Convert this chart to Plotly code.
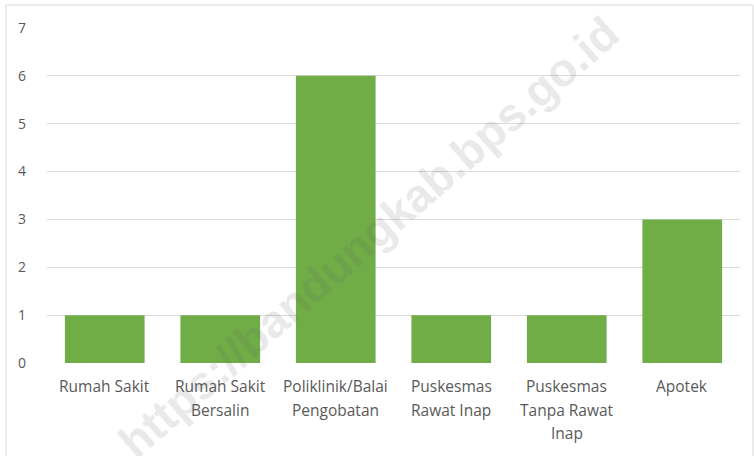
import plotly.graph_objects as go

categories = ["Rumah Sakit", "Rumah Sakit<br>Bersalin", "Poliklinik/Balai<br>Pengobatan",
              "Puskesmas<br>Rawat Inap", "Puskesmas<br>Tanpa Rawat<br>Inap", "Apotek"]
values = [1, 1, 6, 1, 1, 3]
y_ticks = [0, 1, 2, 3, 4, 5, 6, 7]

FONT = "'Open Sans', sans-serif"
TXT = "#595959"

fig = go.Figure(go.Bar(x=categories, y=values, marker=dict(color="#70AD47", line=dict(width=0)),
                       hoverinfo="skip"))

fig.update_layout(
    width=754, height=456,
    margin=dict(l=47, r=14, t=28, b=93, autoexpand=False),
    paper_bgcolor="white", plot_bgcolor="white",
    bargap=0.31,
    showlegend=False,
    font=dict(family=FONT, size=14, color=TXT),
)
fig.update_xaxes(showticklabels=False, showgrid=False, zeroline=False, showline=False, ticks="",
                 automargin=False)
fig.update_yaxes(range=[0, 7], tickvals=y_ticks, showgrid=True, gridcolor="#D9D9D9", gridwidth=1,
                 zeroline=False, showline=False, ticks="", ticklabelstandoff=20, automargin=False,
                 tickfont=dict(family=FONT, size=14, color=TXT))

# category labels, one annotation per line (wider line spacing as in reference)
for cat in categories:
    for i, line in enumerate(cat.split("<br>")):
        fig.add_annotation(x=cat, y=0, xref="x", yref="y", text=line, showarrow=False,
                           yshift=-(23 + 23.5 * i), font=dict(family=FONT, size=15.5, color=TXT),
                           xanchor="center", yanchor="middle")

# outer chart border
fig.add_shape(type="rect", xref="paper", yref="paper", x0=-0.0592, x1=1.0188, y0=-0.3, y1=1.0687,
              line=dict(color="#D9D9D9", width=1), fillcolor="rgba(0,0,0,0)", layer="below")

# watermark
fig.add_annotation(x=0.465, y=0.375, xref="paper", yref="paper", text="<b>https://bandungkab.bps.go.id</b>",
                   showarrow=False, textangle=-41, opacity=0.13,
                   font=dict(family="'Liberation Sans', Arial, sans-serif", size=46, color="#606060"))

fig.write_html("out.html", config={"displayModeBar": False},
               post_script="document.body.style.margin='0';document.body.style.overflow='hidden';")
